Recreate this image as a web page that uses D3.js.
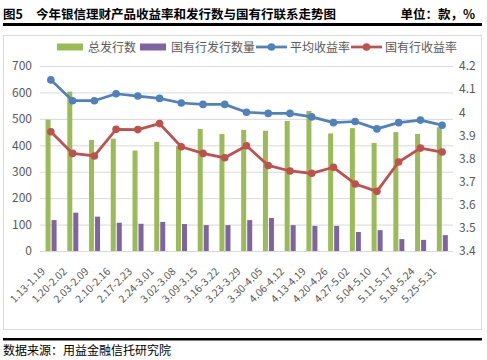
<!DOCTYPE html>
<html><head><meta charset="utf-8">
<script src="https://cdn.jsdelivr.net/npm/d3@7"></script>
<style>
body{margin:0;background:#fff;}
svg{display:block;}
</style></head>
<body>
<svg id="c" width="487" height="360"></svg>
<script>
const categories = ["1.13-1.19","1.20-2.02","2.03-2.09","2.10-2.16","2.17-2.23","2.24-3.01","3.02-3.08","3.09-3.15","3.16-3.22","3.23-3.29","3.30-4.05","4.06-4.12","4.13-4.19","4.20-4.26","4.27-5.02","5.04-5.10","5.11-5.17","5.18-5.24","5.25-5.31"];
const totalIssue = [497,603,420,425,380,413,397,462,443,458,455,492,530,445,465,409,450,443,468];
const stateIssue = [117,145,130,107,103,110,102,98,98,117,125,98,95,95,72,79,45,42,60];
const avgYield = [4.14,4.05,4.05,4.08,4.07,4.06,4.04,4.034,4.034,4.0,3.995,3.995,3.98,3.955,3.96,3.928,3.955,3.966,3.944];
const stateYield = [3.916,3.822,3.811,3.926,3.925,3.951,3.851,3.822,3.803,3.855,3.77,3.746,3.736,3.762,3.69,3.658,3.785,3.845,3.828];
const leftTicks = [0,100,200,300,400,500,600,700];
const rightTicks = [3.4,3.5,3.6,3.7,3.8,3.9,4,4.1,4.2];
const seriesNames = ["总发行数","国有行发行数量","平均收益率","国有行收益率"];
const colors = {green:"#9bbb59", purple:"#8064a2", blue:"#4f81bd", red:"#c0504d"};

const svg = d3.select("#c");
const font = "'Noto Sans CJK SC','Noto Sans',sans-serif";

// Title
svg.append("text").attr("x",3).attr("y",19).attr("font-family",font).attr("font-weight","bold")
  .attr("font-size",12.5).attr("fill","#000").text("图5");
svg.append("text").attr("x",36).attr("y",19).attr("font-family",font).attr("font-weight","bold")
  .attr("font-size",12.5).attr("fill","#000").text("今年银信理财产品收益率和发行数与国有行联系走势图");
svg.append("text").attr("x",475).attr("y",19).attr("text-anchor","end").attr("font-family",font).attr("font-weight","bold")
  .attr("font-size",12.5).attr("fill","#000").text("单位：款，%");
svg.append("rect").attr("x",3).attr("y",23).attr("width",479).attr("height",3).attr("fill","#000");

// chart border
svg.append("rect").attr("x",3.5).attr("y",35.5).attr("width",478).attr("height",294).attr("fill","none").attr("stroke","#d9d9d9");

// bottom
svg.append("rect").attr("x",3).attr("y",338).attr("width",479).attr("height",2.5).attr("fill","#000");
svg.append("text").attr("x",3).attr("y",355).attr("font-family",font)
  .attr("font-size",12).attr("fill","#000").text("数据来源：用益金融信托研究院");

const x0 = 40, x1 = 453, yTop = 66, yBot = 251;
const x = d3.scaleBand().domain(categories).range([x0,x1]);
const yL = d3.scaleLinear().domain([0,700]).range([yBot,yTop]);
const yR = d3.scaleLinear().domain([3.4,4.2]).range([yBot,yTop]);

// gridlines
svg.append("g").selectAll("line").data(leftTicks.slice(1)).join("line")
  .attr("x1",x0).attr("x2",x1).attr("y1",d=>yL(d)+0.5).attr("y2",d=>yL(d)+0.5)
  .attr("stroke","#d9d9d9").attr("stroke-width",1);

// left axis
const gL = svg.append("g").attr("transform",`translate(${x0},0)`)
  .call(d3.axisLeft(yL).tickValues(leftTicks).tickSize(0).tickPadding(8).tickFormat(d3.format("d")));
gL.select(".domain").remove();
gL.selectAll("text").attr("font-family",font).attr("font-size",12).attr("fill","#595959");

// right axis
const gR = svg.append("g").attr("transform",`translate(${x1},0)`)
  .call(d3.axisRight(yR).tickValues(rightTicks).tickSize(0).tickPadding(6).tickFormat(d=>d3.format("")(+d.toFixed(1))));
gR.select(".domain").remove();
gR.selectAll("text").attr("font-family",font).attr("font-size",12).attr("fill","#595959");

// bars
const bw = 5;
const c = d => x(d) + x.bandwidth()/2;
svg.append("g").selectAll("rect").data(categories).join("rect")
  .attr("x",(d)=>c(d)-bw-0.3).attr("width",bw)
  .attr("y",(d,i)=>yL(totalIssue[i])).attr("height",(d,i)=>yBot-yL(totalIssue[i]))
  .attr("fill",colors.green);
svg.append("g").selectAll("rect").data(categories).join("rect")
  .attr("x",(d)=>c(d)+0.7).attr("width",bw)
  .attr("y",(d,i)=>yL(stateIssue[i])).attr("height",(d,i)=>yBot-yL(stateIssue[i]))
  .attr("fill",colors.purple);

// x axis line
svg.append("line").attr("x1",x0).attr("x2",x1).attr("y1",yBot+0.5).attr("y2",yBot+0.5).attr("stroke","#d9d9d9");

// x labels
svg.append("g").selectAll("text").data(categories).join("text")
  .attr("transform",d=>`translate(${c(d)-5},${yBot+21}) rotate(-45)`)
  .attr("text-anchor","end").attr("font-family",font).attr("font-size",10.5).attr("fill","#595959")
  .text(d=>d);

// lines
function drawLine(vals,color){
  const line = d3.line().x((v,i)=>c(categories[i])).y(v=>yR(v));
  svg.append("path").datum(vals).attr("d",line).attr("fill","none").attr("stroke",color)
    .attr("stroke-width",2.75).attr("stroke-linejoin","round");
  svg.append("g").selectAll("circle").data(vals).join("circle")
    .attr("cx",(v,i)=>c(categories[i])).attr("cy",v=>yR(v)).attr("r",3.8).attr("fill",color);
}
drawLine(avgYield,colors.blue);
drawLine(stateYield,colors.red);

// legend
const lg = svg.append("g").attr("font-family",font).attr("font-size",12).attr("fill","#595959");
const ly = 47;
lg.append("rect").attr("x",57).attr("y",ly-3.5).attr("width",26).attr("height",7).attr("fill",colors.green);
lg.append("text").attr("x",88).attr("y",ly+4.5).text(seriesNames[0]);
lg.append("rect").attr("x",140).attr("y",ly-3.5).attr("width",26).attr("height",7).attr("fill",colors.purple);
lg.append("text").attr("x",171).attr("y",ly+4.5).text(seriesNames[1]);
lg.append("line").attr("x1",256).attr("x2",287).attr("y1",ly).attr("y2",ly).attr("stroke",colors.blue).attr("stroke-width",2.75);
lg.append("circle").attr("cx",271.5).attr("cy",ly).attr("r",3.8).attr("fill",colors.blue);
lg.append("text").attr("x",290).attr("y",ly+4.5).text(seriesNames[2]);
lg.append("line").attr("x1",351).attr("x2",382).attr("y1",ly).attr("y2",ly).attr("stroke",colors.red).attr("stroke-width",2.75);
lg.append("circle").attr("cx",366.5).attr("cy",ly).attr("r",3.8).attr("fill",colors.red);
lg.append("text").attr("x",385).attr("y",ly+4.5).text(seriesNames[3]);
</script>
</body></html>
